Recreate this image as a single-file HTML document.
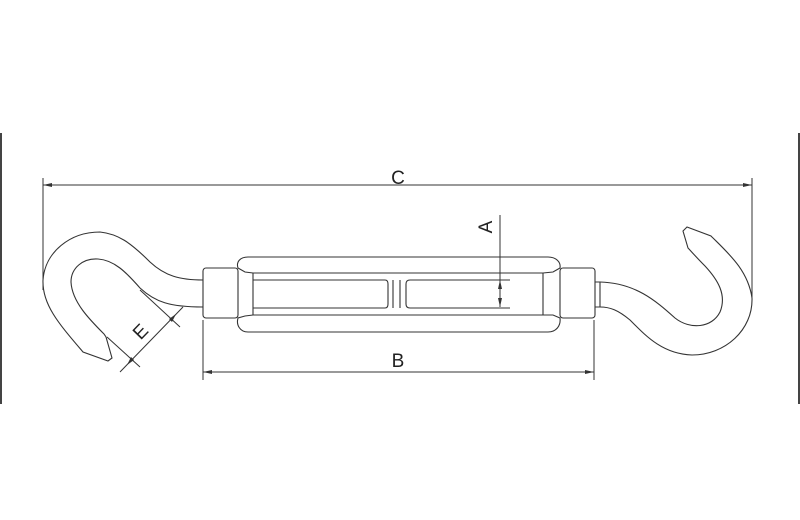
<!DOCTYPE html>
<html><head><meta charset="utf-8"><style>html,body{margin:0;padding:0;background:#fff}svg{display:block}</style></head><body>
<svg width="800" height="520" viewBox="0 0 800 520" xmlns="http://www.w3.org/2000/svg">
<rect width="800" height="520" fill="#fff"/>
<line x1="1" y1="133" x2="1" y2="404" stroke="#444" stroke-width="2"/>
<line x1="799" y1="133" x2="799" y2="404" stroke="#444" stroke-width="2"/>
<g fill="none" stroke="#333" stroke-width="1.1">
<!-- left hook -->
<path d="M203,280 C180,280 165,276 150,262 C130,242 118,234 100,232 C70,232 45,252 43,280 C42,305 60,325 83,352 L108,361 L112,358 L106,337 L104,334 C90,320 72,302 71,282 C71,268 83,258 98,259 C114,260 126,272 140,288 C155,302 170,307 203,307"/>
<!-- body -->
<rect x="203" y="268" width="35" height="50" rx="3"/>
<rect x="560" y="268" width="35" height="50" rx="3"/>
<path d="M238,268 C236,262 240,257 248,257 L548,257 C556,257 561,262 560,268 L553,272 L543,273 L253,273 L245,272 Z"/>
<path d="M238,318 C236,325 240,332 248,332 L548,332 C556,332 561,326 560,318 L553,315 L543,315 L253,315 L245,316 Z"/>
<path d="M253,273 L253,315 M543,273 L543,315"/>
<path d="M253,280 L385,280 Q388,280 388,284 L388,304 Q388,308 385,308 L253,308"/>
<path d="M410,280 L510,280 M410,308 L510,308 M410,280 Q406,280 406,284 L406,304 Q406,308 410,308"/>
<path d="M393,280 L393,308 M400,280 L400,308"/>
<!-- right rod -->
<path d="M595,282 L600,282 M595,307 L600,307 M600,282 L600,307"/>
<!-- right hook -->
<path d="M600,282 C635,283 655,300 675,318 C690,330 712,328 720,312 C727,295 718,280 705,266 C696,257 690,250 688,248 L683,231 L687,227 L711,236 C728,253 748,270 752,298 C753,330 725,355 692,355 C662,354 645,335 630,320 C618,310 610,307 600,307"/>
</g>
<g stroke="#333" stroke-width="1" fill="none">
<!-- C -->
<line x1="43" y1="178" x2="43" y2="290"/>
<line x1="752" y1="178" x2="752" y2="300"/>
<line x1="43" y1="185" x2="752" y2="185"/>
<!-- B -->
<line x1="203" y1="320" x2="203" y2="380"/>
<line x1="594" y1="320" x2="594" y2="380"/>
<line x1="203" y1="372" x2="594" y2="372"/>
<!-- A -->
<line x1="500" y1="215" x2="500" y2="307"/>
<!-- E -->
<line x1="120" y1="372" x2="183" y2="307"/>
<line x1="107" y1="337" x2="140" y2="367"/>
<line x1="140" y1="290" x2="180" y2="327"/>
</g>
<g fill="#333">
<path d="M43,185 l9,-2 v4 z"/><path d="M752,185 l-9,-2 v4 z"/>
<path d="M203,372 l9,-2 v4 z"/><path d="M594,372 l-9,-2 v4 z"/>
<path d="M500,280 l-2,9 h4 z"/><path d="M500,307 l-2,-9 h4 z"/>
<path d="M127,365 l4,-8 l3,3 z"/><path d="M176,314 l-4,8 l-3,-3 z"/>
</g>
<g font-family="Liberation Sans, sans-serif" font-size="19" fill="#222" text-anchor="middle">
<text x="398" y="184">C</text>
<text x="398" y="367">B</text>
<text transform="translate(492,227) rotate(-90)">A</text>
<text transform="translate(145,336) rotate(-46)">E</text>
</g>
</svg>
</body></html>
